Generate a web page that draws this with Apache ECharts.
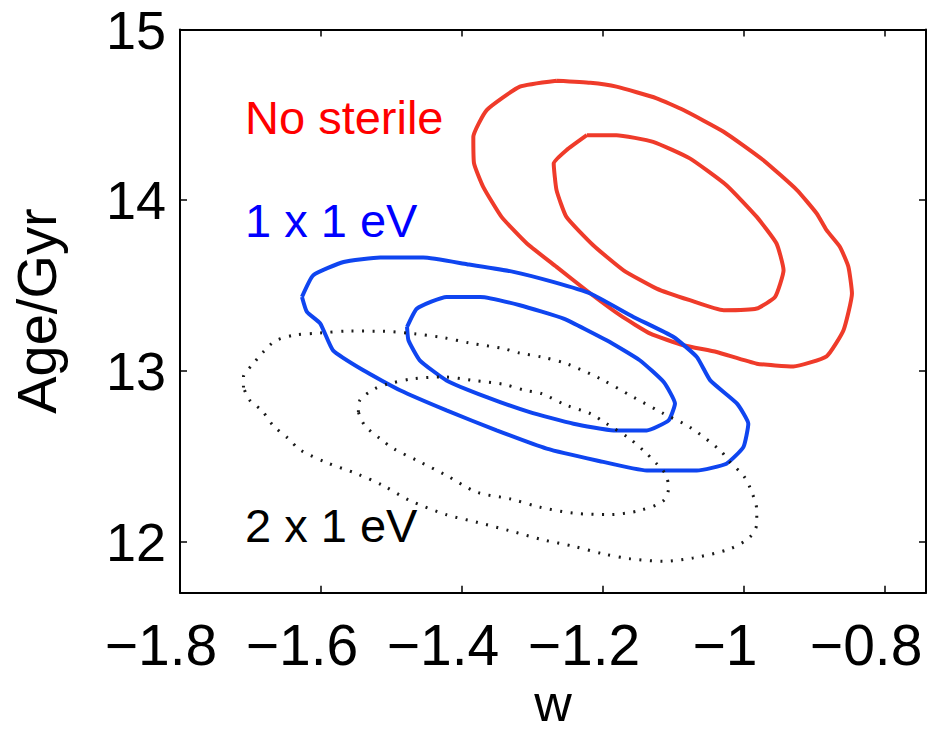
<!DOCTYPE html>
<html>
<head>
<meta charset="utf-8">
<script src="https://cdn.jsdelivr.net/npm/echarts@6/dist/echarts.min.js"></script>
<style>
html,body{margin:0;padding:0;background:#fff;}
#chart{width:927px;height:732px;}
</style>
</head>
<body>
<div id="chart"></div>
<script>
// ---- data (w, Age/Gyr) ----
const xTicks = [-1.8, -1.6, -1.4, -1.2, -1.0, -0.8];
const yTicks = [12, 13, 14, 15];
const xRange = [-1.8, -0.742];
const yRange = [11.7, 15];

const noSterileOuter = [[-1.266,14.700],[-1.318,14.665],[-1.365,14.528],[-1.384,14.371],[-1.383,14.215],[-1.370,14.078],[-1.344,13.902],[-1.308,13.746],[-1.266,13.609],[-1.218,13.453],[-1.176,13.326],[-1.133,13.218],[-1.086,13.150],[-1.039,13.110],[-0.982,13.042],[-0.930,13.026],[-0.883,13.085],[-0.859,13.238],[-0.847,13.453],[-0.852,13.609],[-0.864,13.726],[-0.883,13.824],[-0.897,13.922],[-0.925,14.059],[-0.973,14.235],[-1.029,14.401],[-1.086,14.528],[-1.124,14.597],[-1.181,14.665],[-1.218,14.688],[-1.266,14.700]];
const noSterileInner = [[-1.223,14.381],[-1.181,14.381],[-1.129,14.342],[-1.077,14.245],[-1.025,14.088],[-0.982,13.902],[-0.954,13.746],[-0.944,13.589],[-0.956,13.433],[-0.982,13.365],[-1.029,13.355],[-1.077,13.414],[-1.124,13.482],[-1.171,13.589],[-1.214,13.736],[-1.252,13.902],[-1.266,14.059],[-1.270,14.215],[-1.252,14.293],[-1.223,14.381]];
const oneSterileOuter = [[-1.627,13.433],[-1.611,13.560],[-1.568,13.638],[-1.516,13.664],[-1.455,13.664],[-1.393,13.625],[-1.327,13.580],[-1.271,13.521],[-1.218,13.453],[-1.157,13.316],[-1.100,13.198],[-1.067,13.081],[-1.048,12.944],[-1.010,12.808],[-0.994,12.690],[-1.001,12.553],[-1.025,12.456],[-1.067,12.416],[-1.138,12.416],[-1.209,12.475],[-1.280,12.544],[-1.351,12.651],[-1.422,12.768],[-1.488,12.886],[-1.540,13.003],[-1.583,13.120],[-1.601,13.277],[-1.620,13.345],[-1.627,13.433]];
const oneSterileInner = [[-1.478,13.257],[-1.464,13.365],[-1.422,13.433],[-1.374,13.433],[-1.318,13.384],[-1.256,13.306],[-1.195,13.179],[-1.148,13.062],[-1.114,12.934],[-1.098,12.808],[-1.107,12.710],[-1.138,12.651],[-1.185,12.651],[-1.242,12.690],[-1.304,12.758],[-1.365,12.846],[-1.422,12.944],[-1.460,13.062],[-1.476,13.179],[-1.478,13.257]];
const twoSterileOuter = [[-1.710,12.902],[-1.710,12.964],[-1.696,13.042],[-1.682,13.110],[-1.665,13.175],[-1.639,13.208],[-1.601,13.222],[-1.559,13.233],[-1.514,13.232],[-1.469,13.218],[-1.427,13.195],[-1.389,13.163],[-1.341,13.130],[-1.318,13.104],[-1.287,13.081],[-1.252,13.042],[-1.204,12.954],[-1.157,12.846],[-1.114,12.749],[-1.077,12.670],[-1.034,12.534],[-1.020,12.465],[-1.001,12.387],[-0.992,12.319],[-0.982,12.182],[-0.982,12.104],[-0.992,12.025],[-1.020,11.957],[-1.072,11.904],[-1.114,11.884],[-1.162,11.899],[-1.200,11.928],[-1.242,11.972],[-1.285,12.010],[-1.334,12.065],[-1.379,12.113],[-1.422,12.157],[-1.474,12.240],[-1.512,12.328],[-1.549,12.397],[-1.592,12.462],[-1.630,12.538],[-1.646,12.602],[-1.668,12.680],[-1.684,12.768],[-1.701,12.827],[-1.710,12.902]];
const twoSterileInner = [[-1.547,12.758],[-1.545,12.827],[-1.523,12.896],[-1.507,12.921],[-1.469,12.954],[-1.427,12.964],[-1.384,12.944],[-1.341,12.921],[-1.311,12.886],[-1.287,12.866],[-1.252,12.798],[-1.218,12.749],[-1.195,12.690],[-1.162,12.602],[-1.143,12.534],[-1.124,12.456],[-1.112,12.397],[-1.107,12.319],[-1.114,12.240],[-1.148,12.182],[-1.190,12.158],[-1.242,12.166],[-1.289,12.201],[-1.332,12.250],[-1.379,12.289],[-1.422,12.387],[-1.464,12.475],[-1.497,12.544],[-1.516,12.602],[-1.538,12.680],[-1.547,12.758]];

const labels = ['No sterile', '1 x 1 eV', '2 x 1 eV'];
const xName = 'w';
const yName = 'Age/Gyr';

// ---- styles ----
const FONT = '"Liberation Sans", Arial, Helvetica, sans-serif';
const RED = '#ef3b2a', BLUE = '#0f45f0', BLACK = '#1a1a1a';
const fmt = v => {
  const r = Math.round(v * 10) / 10;
  return (r < 0 ? '\u2212' : '') + String(Math.abs(r));
};

function contour(name, data, color, dotted) {
  return {
    name, type: 'line', data, symbol: 'none', showSymbol: false, smooth: dotted ? 0.3 : 0.15,
    animation: false, silent: true,
    lineStyle: dotted ? {color: BLACK, width: 3, type: [2, 8.5]} : {color, width: 4}
  };
}

const chart = echarts.init(document.getElementById('chart'), null, {renderer: 'svg'});
const axisLineStyle = {color: '#000', width: 2};
chart.setOption({
  backgroundColor: '#fff',
  animation: false,
  grid: {left: 180, right: 1, top: 29.5, bottom: 139.3, containLabel: false, outerBoundsMode: 'none'},
  xAxis: [{
    type: 'value', min: xRange[0], max: xRange[1], position: 'bottom',
    name: xName, nameLocation: 'middle', nameGap: 92, nameMoveOverlap: false,
    nameTextStyle: {fontFamily: FONT, fontSize: 52, color: '#000', lineHeight: 36},
    axisLine: {onZero: false, lineStyle: axisLineStyle},
    axisTick: {inside: true, length: 7, customValues: xTicks, lineStyle: {color: '#000', width: 1.5}},
    axisLabel: {customValues: xTicks, formatter: fmt, fontFamily: FONT, fontSize: 57, color: '#000', margin: 24, padding: [0, 38, 0, 0]},
    splitLine: {show: false}
  }, {
    type: 'value', min: xRange[0], max: xRange[1], position: 'top',
    axisLine: {onZero: false, lineStyle: axisLineStyle},
    axisTick: {inside: true, length: 7, customValues: xTicks, lineStyle: {color: '#000', width: 1.5}},
    axisLabel: {show: false}, splitLine: {show: false}
  }],
  yAxis: [{
    type: 'value', min: yRange[0], max: yRange[1], position: 'left',
    name: yName, nameLocation: 'middle', nameGap: 116, nameRotate: 90, nameMoveOverlap: false,
    nameTextStyle: {fontFamily: FONT, fontSize: 56, color: '#000'},
    axisLine: {onZero: false, lineStyle: axisLineStyle},
    axisTick: {inside: true, length: 7, customValues: yTicks, lineStyle: {color: '#000', width: 1.5}},
    axisLabel: {customValues: yTicks, formatter: fmt, fontFamily: FONT, fontSize: 54, color: '#000', margin: 14, lineHeight: 44, padding: [5, 0, 0, 0]},
    splitLine: {show: false}
  }, {
    type: 'value', min: yRange[0], max: yRange[1], position: 'right',
    axisLine: {onZero: false, lineStyle: axisLineStyle},
    axisTick: {inside: true, length: 7, customValues: yTicks, lineStyle: {color: '#000', width: 1.5}},
    axisLabel: {show: false}, splitLine: {show: false}
  }],
  series: [
    contour('No sterile 95%', noSterileOuter, RED, false),
    contour('No sterile 68%', noSterileInner, RED, false),
    contour('1 x 1 eV 95%', oneSterileOuter, BLUE, false),
    contour('1 x 1 eV 68%', oneSterileInner, BLUE, false),
    contour('2 x 1 eV 95%', twoSterileOuter, BLACK, true),
    contour('2 x 1 eV 68%', twoSterileInner, BLACK, true)
  ],
  graphic: [
    {type: 'text', x: 245, y: 117.5, silent: true, style: {text: labels[0], font: '47px ' + FONT, fill: '#ff0000', verticalAlign: 'middle', align: 'left'}},
    {type: 'text', x: 245, y: 220, silent: true, style: {text: labels[1], font: '47px ' + FONT, fill: '#0000ff', verticalAlign: 'middle', align: 'left'}},
    {type: 'text', x: 245, y: 525.5, silent: true, style: {text: labels[2], font: '47px ' + FONT, fill: '#000', verticalAlign: 'middle', align: 'left'}}
  ]
});
</script>
</body>
</html>
